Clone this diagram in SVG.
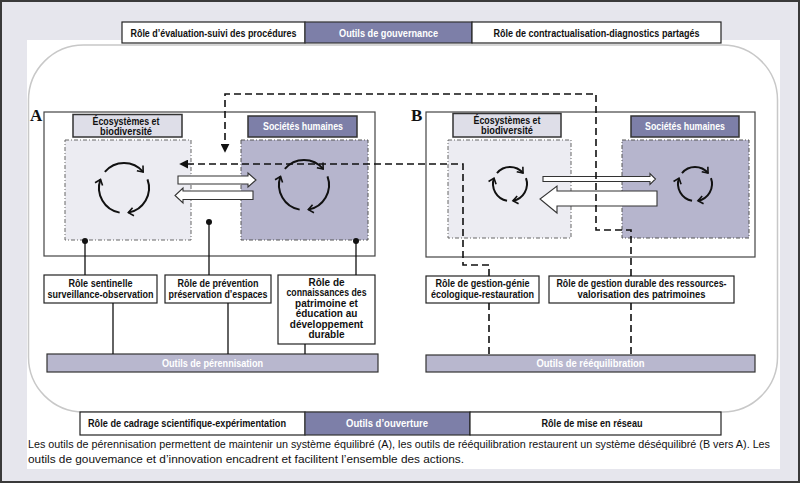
<svg xmlns="http://www.w3.org/2000/svg" width="800" height="483" viewBox="0 0 800 483">
<defs>
<style>
text{font-family:"Liberation Sans",Arial,sans-serif;fill:#111}
.b{font-weight:bold}
.w{fill:#fff}
.box{fill:#fff;stroke:#222;stroke-width:1.2}
.pur{fill:#7d7fa8;stroke:#333;stroke-width:1.2}
.eco{fill:#dedee8;stroke:#333;stroke-width:1.5}
.soc{fill:#7d7fa8;stroke:#333;stroke-width:1.5}
.rl{fill:#ececf2;stroke:#666;stroke-width:1;stroke-dasharray:4 2 1 2}
.rd{fill:#b6b5cd;stroke:#555;stroke-width:1;stroke-dasharray:4 2 1 2}
.bar{fill:#b8b7ce;stroke:#333;stroke-width:1.2}
.cyc{fill:none;stroke:#111;stroke-width:2;marker-end:url(#chev)}
.blk{fill:#fff;stroke:#333;stroke-width:1.1}
.sl{fill:none;stroke:#111;stroke-width:1.3}
.dl{fill:none;stroke:#111;stroke-width:1.6;stroke-dasharray:7 4}
.r{font-size:10px;font-weight:bold;text-anchor:middle}
</style>
<marker id="chev" viewBox="-8 -6 10 12" markerWidth="10" markerHeight="12" markerUnits="userSpaceOnUse" orient="auto" refX="0" refY="0">
<path d="M-5,-4 L0,0 L-5,4" fill="none" stroke="#111" stroke-width="1.6"/>
</marker>
<marker id="tri" viewBox="0 0 10 10" markerWidth="9" markerHeight="9" markerUnits="userSpaceOnUse" orient="auto" refX="8" refY="5">
<path d="M0,0 L10,5 L0,10 Z" fill="#111"/>
</marker>
<g id="cyc25">
<path class="cyc" d="M-19.15,-16.07 A25,25 0 0 1 19.15,-16.07"/>
<path class="cyc" d="M23.49,-8.55 A25,25 0 0 1 4.34,24.62"/>
<path class="cyc" d="M-4.34,24.62 A25,25 0 0 1 -23.49,-8.55"/>
</g>
<g id="cyc17">
<path class="cyc" d="M-13.02,-10.93 A17,17 0 0 1 13.02,-10.93"/>
<path class="cyc" d="M15.97,-5.81 A17,17 0 0 1 2.95,16.74"/>
<path class="cyc" d="M-2.95,16.74 A17,17 0 0 1 -15.97,-5.81"/>
</g>
</defs>

<g id="background">
<rect x="1" y="1" width="798" height="481" fill="#e6e6ed" stroke="#3a3a3a" stroke-width="2"/>
<rect x="27" y="40" width="753" height="429" fill="#fff"/>
<rect x="28.5" y="45" width="749" height="367" rx="55" ry="55" fill="none" stroke="#c8c8c8" stroke-width="1.5"/>
</g>

<g id="top-bar">
<rect class="box" x="122" y="22" width="183" height="21"/>
<text class="b" x="213.5" y="36.5" font-size="10.5" text-anchor="middle" textLength="166" lengthAdjust="spacingAndGlyphs">Rôle d’évaluation-suivi des procédures</text>
<rect class="pur" x="305" y="22" width="167" height="21"/>
<text class="b w" x="388.5" y="36.5" font-size="10.5" text-anchor="middle" textLength="99" lengthAdjust="spacingAndGlyphs">Outils de gouvernance</text>
<rect class="box" x="472" y="22" width="249" height="21"/>
<text class="b" x="596.5" y="36.5" font-size="10.5" text-anchor="middle" textLength="206" lengthAdjust="spacingAndGlyphs">Rôle de contractualisation-diagnostics partagés</text>
</g>

<g id="panel-A">
<text x="30" y="121" font-weight="bold" font-size="17" style="font-family:'Liberation Serif',serif">A</text>
<rect x="44" y="112" width="331" height="144" fill="#fff" stroke="#444" stroke-width="1.2"/>
<rect class="rl" x="65" y="140" width="126" height="100"/>
<rect class="rd" x="241" y="140" width="127" height="100"/>
<g id="A-eco">
<rect class="eco" x="73" y="114.5" width="109" height="22.5"/>
<text class="r" x="126" y="124.5" textLength="67" lengthAdjust="spacingAndGlyphs">Écosystèmes et</text>
<text class="r" x="126" y="134.5" textLength="52" lengthAdjust="spacingAndGlyphs">biodiversité</text>
</g>
<g id="A-soc">
<rect class="soc" x="248" y="116" width="109" height="21"/>
<text class="r w" x="303" y="130" textLength="80" lengthAdjust="spacingAndGlyphs">Sociétés humaines</text>
</g>
<use href="#cyc25" x="124" y="188"/>
<use href="#cyc25" x="304" y="185"/>
<path class="blk" d="M178,176 H248 V173 L256,180 L248,187 V184 H178 Z"/>
<path class="blk" d="M253,191 H183 V188 L175,195.5 L183,203 V199.5 H253 Z"/>
</g>

<g id="panel-B">
<text x="411" y="121" font-weight="bold" font-size="17" style="font-family:'Liberation Serif',serif">B</text>
<rect x="426" y="112" width="329" height="145" fill="#fff" stroke="#444" stroke-width="1.2"/>
<rect class="rl" x="448" y="140" width="123" height="98"/>
<rect class="rd" x="622" y="140" width="127" height="98"/>
<g id="B-eco">
<rect class="eco" x="453" y="113.5" width="108" height="23.5"/>
<text class="r" x="507" y="123.5" textLength="67" lengthAdjust="spacingAndGlyphs">Écosystèmes et</text>
<text class="r" x="507" y="133.5" textLength="52" lengthAdjust="spacingAndGlyphs">biodiversité</text>
</g>
<g id="B-soc">
<rect class="soc" x="631" y="116" width="108" height="21"/>
<text class="r w" x="685" y="130" textLength="80" lengthAdjust="spacingAndGlyphs">Sociétés humaines</text>
</g>
<use href="#cyc17" x="510" y="184"/>
<use href="#cyc17" x="695" y="184"/>
<path class="blk" d="M543,176.5 H650 V173.5 L655.5,179 L650,184.5 V181.5 H543 Z"/>
<path class="blk" d="M657,191 H557 V186 L540,199 L557,213 V206 H657 Z"/>
</g>

<g id="roles-A">
<g id="role-sentinelle">
<rect class="box" x="44" y="275" width="113" height="28"/>
<text class="r" x="100.5" y="286.5" textLength="64" lengthAdjust="spacingAndGlyphs">Rôle sentinelle</text>
<text class="r" x="100.5" y="297.5" textLength="106" lengthAdjust="spacingAndGlyphs">surveillance-observation</text>
</g>
<g id="role-prevention">
<rect class="box" x="165" y="275" width="106" height="28"/>
<text class="r" x="218" y="286.5" textLength="81" lengthAdjust="spacingAndGlyphs">Rôle de prévention</text>
<text class="r" x="218" y="297.5" textLength="99" lengthAdjust="spacingAndGlyphs">préservation d’espaces</text>
</g>
<g id="role-connaissances">
<rect class="box" x="278" y="275" width="97" height="69"/>
<text class="r" x="326.5" y="285.5">Rôle de</text>
<text class="r" x="326.5" y="296" textLength="80" lengthAdjust="spacingAndGlyphs">connaissances des</text>
<text class="r" x="326.5" y="306.5">patrimoine et</text>
<text class="r" x="326.5" y="317">éducation au</text>
<text class="r" x="326.5" y="327.5">développement</text>
<text class="r" x="326.5" y="338">durable</text>
</g>
<g id="bar-perennisation">
<rect class="bar" x="47" y="354" width="331" height="18"/>
<text class="r w" x="212.5" y="366.5" font-size="10.5" textLength="101" lengthAdjust="spacingAndGlyphs">Outils de pérennisation</text>
</g>
</g>

<g id="roles-B">
<g id="role-genie">
<rect class="box" x="426" y="276" width="113" height="27"/>
<text class="r" x="482.5" y="287" textLength="94" lengthAdjust="spacingAndGlyphs">Rôle de gestion-génie</text>
<text class="r" x="482.5" y="298" textLength="103" lengthAdjust="spacingAndGlyphs">écologique-restauration</text>
</g>
<g id="role-gestion-durable">
<rect class="box" x="549" y="276" width="185" height="27"/>
<text class="r" x="641.5" y="287" textLength="170" lengthAdjust="spacingAndGlyphs">Rôle de gestion durable des ressources-</text>
<text class="r" x="641.5" y="298" textLength="128" lengthAdjust="spacingAndGlyphs">valorisation des patrimoines</text>
</g>
<g id="bar-reequilibration">
<rect class="bar" x="426" y="355" width="329" height="17"/>
<text class="r w" x="590.5" y="367" font-size="10.5" textLength="108" lengthAdjust="spacingAndGlyphs">Outils de rééquilibration</text>
</g>
</g>

<g id="connectors">
<path class="sl" d="M85,241 V275 M209,222 V275 M356,241 V275 M113,303 V354 M228,303 V354 M305,344 V354"/>
<circle cx="85" cy="241" r="3" fill="#111"/>
<circle cx="209" cy="222" r="3" fill="#111"/>
<circle cx="356" cy="241" r="3" fill="#111"/>
<path class="dl" d="M489,276 V265 H463 V164 H181" marker-end="url(#tri)"/>
<path class="dl" d="M631,276 V230 H596 V94 H225 V151" marker-end="url(#tri)"/>
<path class="dl" d="M489,303 V355 M631,303 V355"/>
</g>

<g id="bottom-bar">
<rect class="box" x="80" y="412" width="225" height="23"/>
<text class="b" x="187" y="427" font-size="10.5" text-anchor="middle" textLength="198" lengthAdjust="spacingAndGlyphs">Rôle de cadrage scientifique-expérimentation</text>
<rect class="pur" x="305" y="412" width="165" height="23"/>
<text class="b w" x="387" y="427" font-size="10.5" text-anchor="middle" textLength="82" lengthAdjust="spacingAndGlyphs">Outils d’ouverture</text>
<rect class="box" x="470" y="412" width="251" height="23"/>
<text class="b" x="592" y="427" font-size="10.5" text-anchor="middle" textLength="101" lengthAdjust="spacingAndGlyphs">Rôle de mise en réseau</text>
</g>

<g id="caption">
<text x="28" y="448" font-size="11" textLength="742" lengthAdjust="spacingAndGlyphs">Les outils de pérennisation permettent de maintenir un système équilibré (A), les outils de rééquilibration restaurent un système déséquilibré (B vers A). Les</text>
<text x="28" y="463" font-size="11" textLength="436" lengthAdjust="spacingAndGlyphs">outils de gouvemance et d’innovation encadrent et facilitent l’ensemble des actions.</text>
</g>
</svg>
